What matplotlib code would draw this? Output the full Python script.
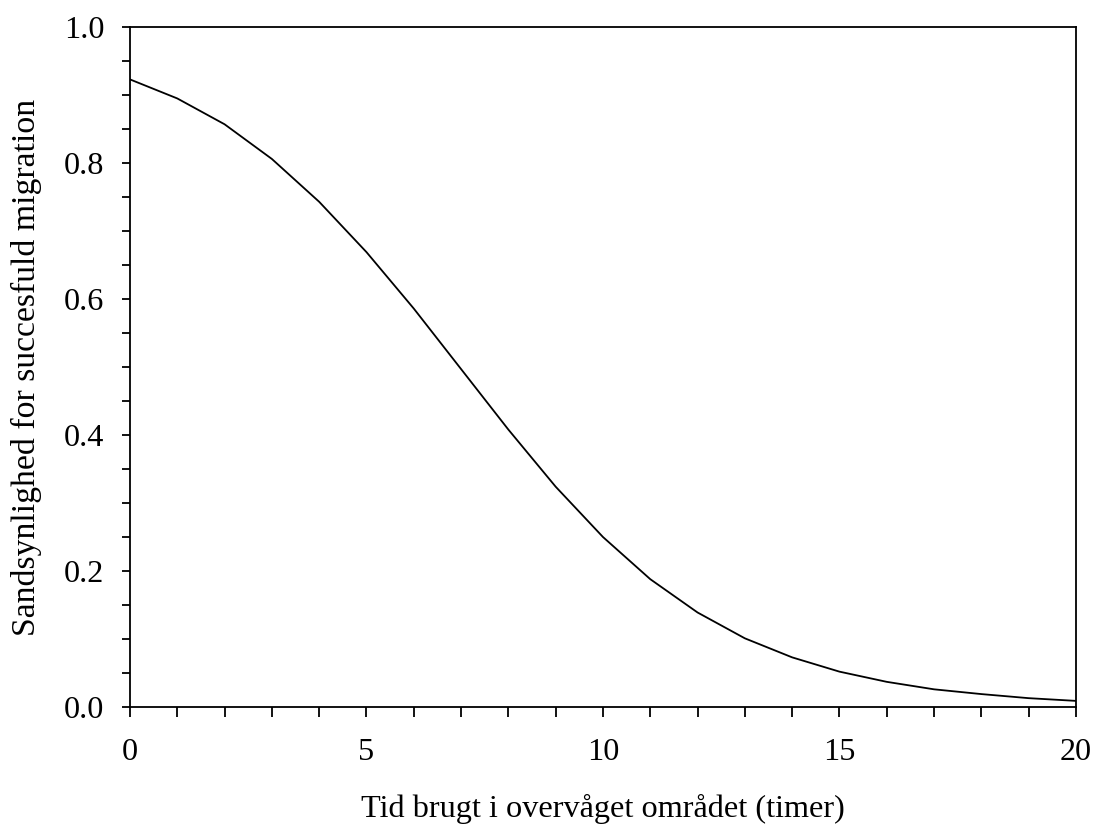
import matplotlib
matplotlib.use("Agg")
import matplotlib.pyplot as plt
from matplotlib.ticker import MultipleLocator

hours = [0, 1, 2, 3, 4, 5, 6, 7, 8, 9, 10, 11, 12, 13, 14, 15, 16, 17, 18, 19, 20]
probability = [0.923, 0.895, 0.857, 0.806, 0.743, 0.669, 0.586, 0.497, 0.408, 0.324,
               0.250, 0.188, 0.139, 0.101, 0.073, 0.052, 0.037, 0.026, 0.019, 0.013, 0.009]
xlabel = "Tid brugt i overvåget området (timer)"
ylabel = "Sandsynlighed for succesfuld migration"

plt.rcParams['font.family'] = ['Liberation Serif', 'DejaVu Serif']

fig = plt.figure(figsize=(10.95, 8.27), dpi=100)
ax = fig.add_axes([0.1187, 0.1451, 0.8639, 0.8222])
ax.plot(hours, probability, color='black', linewidth=1.3)
ax.set_xlim(0, 20)
ax.set_ylim(0, 1.0)
ax.xaxis.set_major_locator(MultipleLocator(5))
ax.xaxis.set_minor_locator(MultipleLocator(1))
ax.yaxis.set_major_locator(MultipleLocator(0.2))
ax.yaxis.set_minor_locator(MultipleLocator(0.05))
ax.set_yticklabels([f"{v:.1f}" for v in ax.get_yticks()])
ax.tick_params(axis='both', which='both', direction='out', width=1.3,
               labelsize=23.2, top=False, right=False)
ax.tick_params(axis='x', which='both', length=7, pad=15)
ax.tick_params(axis='y', which='both', length=5.5, pad=13)
for s in ax.spines.values():
    s.set_linewidth(1.3)
ax.set_xlabel(xlabel, fontsize=23.2, labelpad=20)
ax.set_ylabel(ylabel, fontsize=24.3, labelpad=16)
fig.savefig("out.png", dpi=100)
